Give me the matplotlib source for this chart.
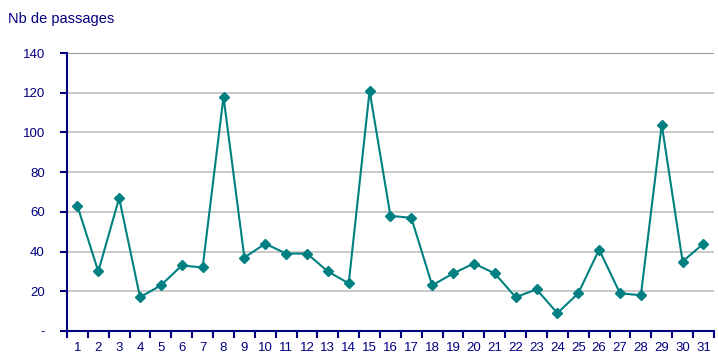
import numpy as np
import matplotlib.pyplot as plt

plt.rcParams['font.family'] = ['Liberation Sans', 'DejaVu Sans']

days = list(range(1, 32))
passages = [63, 30, 67, 17, 23, 33, 32, 118, 37, 44, 39, 39, 30, 24, 121, 58,
            57, 23, 29, 34, 29, 17, 21, 9, 19, 41, 19, 18, 104, 35, 44]
y_ticks = [0, 20, 40, 60, 80, 100, 120, 140]
y_labels = ['-', '20', '40', '60', '80', '100', '120', '140']

navy = '#000080'
teal = '#008080'

fig = plt.figure(figsize=(7.18, 3.54), dpi=100)
ax = fig.add_axes([0.0933, 0.065, 0.901, 0.785])

x = np.arange(len(days))
ax.plot(x, passages, '-', color=teal, lw=1.5, marker='D', ms=5, zorder=3)

ax.set_xlim(-0.5, len(days) - 0.5)
ax.set_ylim(0, 140)

# gridlines
for v in y_ticks[1:-1]:
    ax.axhline(v, color='#c0c0c0', lw=1.2, zorder=1)
ax.axhline(140, color='#808080', lw=1.2, zorder=1)

ax.set_yticks(y_ticks)
ax.set_yticklabels(y_labels)
ax.set_xticks(np.arange(len(days) + 1) - 0.5)
ax.set_xticklabels([])
ax.set_xticks(x, minor=True)
ax.set_xticklabels([str(d) for d in days], minor=True)

ax.tick_params(axis='x', which='major', direction='out', length=5, width=1.5, color=navy)
ax.tick_params(axis='x', which='minor', length=0, pad=8, labelsize=9.5, labelcolor=navy)
ax.tick_params(axis='y', direction='out', length=5, width=1.5, color=navy,
               labelsize=9.5, labelcolor=navy, pad=11)

for s in ['top', 'right']:
    ax.spines[s].set_visible(False)
for s in ['left', 'bottom']:
    ax.spines[s].set_color(navy)
    ax.spines[s].set_linewidth(1.5)

fig.text(0.011, 0.947, 'Nb de passages', color=navy, fontsize=10.5, va='center')

plt.savefig('out.png', dpi=100)
